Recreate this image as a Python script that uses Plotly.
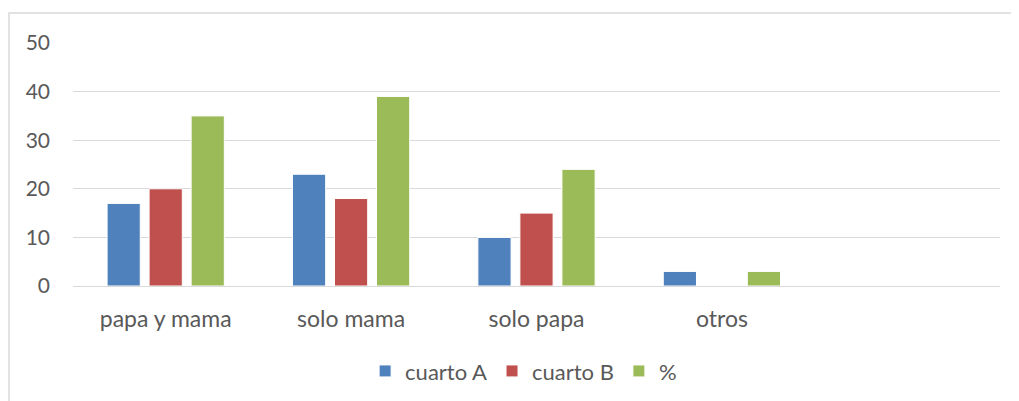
import plotly.graph_objects as go

# data
categories = ["papa y mama", "solo mama", "solo papa", "otros", " "]
cuarto_a = [17, 23, 10, 3, None]
cuarto_b = [20, 18, 15, None, None]
porcentaje = [35, 39, 24, 3, None]
y_ticks = [0, 10, 20, 30, 40, 50]

series = [
    ("cuarto A", cuarto_a, "#4F81BD"),
    ("cuarto B", cuarto_b, "#C0504D"),
    ("%", porcentaje, "#9BBB59"),
]

fig = go.Figure()
for name, values, color in series:
    fig.add_trace(go.Bar(
        x=categories, y=values, name=name,
        marker=dict(color=color, line=dict(color="white", width=1)),
    ))

# page body has an 8px margin, so the figure is shrunk to fit the window
fig.update_layout(
    width=1011, height=393,
    margin=dict(l=65, r=19, t=35, b=115),
    paper_bgcolor="white", plot_bgcolor="white",
    font=dict(family="Lato", size=21, color="#595959"),
    barmode="group", bargap=0.32, bargroupgap=0.21,
    showlegend=True,
    legend=dict(orientation="h", xref="container", x=0.51, xanchor="center",
                yref="container", y=0.076, yanchor="middle",
                itemwidth=30, font=dict(size=22)),
    shapes=[dict(type="rect", xref="paper", yref="paper",
                 x0=-0.069, x1=1.05, y0=-0.6, y1=1.1235,
                 line=dict(color="#D9D9D9", width=1.5), layer="below")],
)
fig.update_xaxes(range=[-0.5, 4.5], showgrid=False, showline=False,
                 ticks="", ticklabelstandoff=17, tickfont=dict(size=23))
fig.update_yaxes(range=[0, 50], tickvals=y_ticks, showgrid=True,
                 gridcolor="#D9D9D9", gridwidth=1.2, zeroline=True,
                 zerolinecolor="#D9D9D9", zerolinewidth=1.2,
                 ticks="", ticklabelstandoff=22)

fig.write_html("out.html")
